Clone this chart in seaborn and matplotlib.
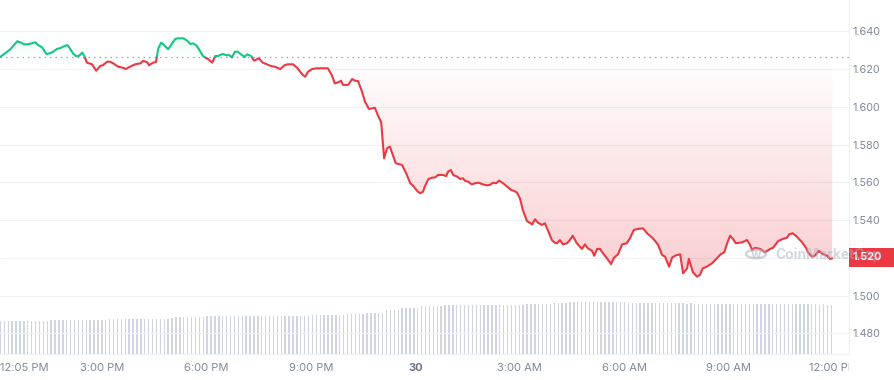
import numpy as np
import matplotlib
matplotlib.use("Agg")
import matplotlib.pyplot as plt
from matplotlib.patches import Rectangle, Circle
from matplotlib.path import Path
import matplotlib.transforms as mtransforms
import seaborn as sns

# ---------------- data ----------------
# minutes after 12:00 PM (day 29) and price in USD
minutes = [5, 13, 22, 27, 34, 39, 46, 52, 59, 65, 70, 77, 84, 90, 96, 102, 108, 113, 120, 123,
           130, 135, 140, 146, 149, 154, 163, 170, 177, 182, 189, 194, 201, 208, 216, 221, 228, 237, 246,
           251, 258, 261, 268, 273, 277, 282, 285, 294, 301, 306, 311, 320, 327, 332, 337, 342, 347,
           354, 363, 370, 375, 380, 388, 394, 399, 404, 409, 414, 421, 426, 430, 437, 442, 447, 450,
           457, 464, 471, 478, 487,
           495, 500, 509, 516, 525, 530, 535, 542, 550, 561, 569, 576, 581, 587, 592, 595, 604, 611,
           616, 621, 628, 633, 640, 650, 655, 661, 666, 671, 676, 681, 686, 697, 704, 711, 716, 723, 728,
           733, 736, 742, 748, 754, 759, 767, 773, 776, 781, 785, 792, 797, 802, 805, 811, 817, 823,
           829, 836, 843, 848, 854, 859, 864, 871, 878, 885, 890, 895, 900, 905, 912, 921, 926, 931,
           938, 943, 948, 955, 960, 964, 969,
           974, 981, 986, 991, 998, 1007, 1012, 1017, 1024, 1028, 1033, 1038, 1043, 1050, 1057, 1062,
           1069, 1076, 1084, 1090, 1096, 1103, 1112, 1119, 1128, 1133, 1138, 1145, 1150, 1157, 1162,
           1167, 1176, 1181, 1188, 1191, 1198, 1205, 1210,
           1215, 1222, 1231, 1239, 1246, 1252, 1257, 1262, 1267, 1272, 1283, 1291, 1296, 1300, 1305,
           1314, 1322, 1331, 1336, 1345, 1353, 1360, 1364, 1370, 1377, 1386, 1393, 1396, 1403, 1408,
           1415, 1422, 1429, 1434, 1438]
prices = [1.6265, 1.6283, 1.6305, 1.6322, 1.6347, 1.6342, 1.6331, 1.6331, 1.6336, 1.6342, 1.6327,
          1.6315, 1.6280, 1.6283, 1.6292, 1.6306, 1.6311, 1.6318, 1.6327, 1.6318,
          1.6283, 1.6269, 1.6269, 1.6287, 1.6273, 1.6234, 1.6225, 1.6191, 1.6216, 1.6221, 1.6239,
          1.6239, 1.6227, 1.6212, 1.6207, 1.6200, 1.6212, 1.6225, 1.6230,
          1.6243, 1.6236, 1.6220, 1.6234, 1.6237, 1.6310, 1.6340, 1.6333, 1.6305, 1.6336, 1.6359,
          1.6363, 1.6363, 1.6350, 1.6333, 1.6336, 1.6327, 1.6305,
          1.6269, 1.6252, 1.6234, 1.6269, 1.6269, 1.6280, 1.6273, 1.6274, 1.6262, 1.6292, 1.6292,
          1.6274, 1.6265, 1.6278, 1.6269, 1.6244, 1.6252, 1.6257,
          1.6234, 1.6225, 1.6216, 1.6212, 1.6200,
          1.6221, 1.6225, 1.6225, 1.6207, 1.6172, 1.6159, 1.6186, 1.6200, 1.6204, 1.6204, 1.6204,
          1.6168, 1.6124, 1.6130, 1.6138, 1.6116, 1.6116, 1.6147,
          1.6138, 1.6137, 1.6080, 1.6027, 1.5988, 1.5995, 1.5957, 1.5918, 1.5727, 1.5780, 1.5789,
          1.5745, 1.5701, 1.5692, 1.5648, 1.5595, 1.5582, 1.5554, 1.5542,
          1.5550, 1.5577, 1.5616, 1.5624, 1.5626, 1.5639, 1.5639, 1.5633, 1.5656, 1.5665, 1.5639,
          1.5630, 1.5618, 1.5621, 1.5609, 1.5603, 1.5589, 1.5595,
          1.5598, 1.5589, 1.5584, 1.5586, 1.5598, 1.5595, 1.5609, 1.5595, 1.5577, 1.5559, 1.5554,
          1.5545, 1.5515, 1.5453, 1.5395, 1.5377, 1.5404,
          1.5386, 1.5374, 1.5383, 1.5347, 1.5294, 1.5280, 1.5277, 1.5294,
          1.5271, 1.5277, 1.5294, 1.5317, 1.5277, 1.5247, 1.5271, 1.5250, 1.5238, 1.5211, 1.5247,
          1.5247, 1.5224, 1.5197, 1.5167, 1.5200,
          1.5219, 1.5271, 1.5277, 1.5306, 1.5347, 1.5353, 1.5356, 1.5330, 1.5306, 1.5289, 1.5268,
          1.5215, 1.5206, 1.5153, 1.5200, 1.5211, 1.5219, 1.5118, 1.5144, 1.5194, 1.5123, 1.5100,
          1.5109,
          1.5144, 1.5153, 1.5171, 1.5197, 1.5219, 1.5229, 1.5277, 1.5317, 1.5300, 1.5277, 1.5282,
          1.5294, 1.5271, 1.5241, 1.5253, 1.5247, 1.5229, 1.5247, 1.5253, 1.5289,
          1.5300, 1.5306, 1.5325, 1.5330, 1.5312, 1.5282, 1.5253, 1.5229, 1.5206, 1.5211,
          1.5236, 1.5219, 1.5211, 1.5194, 1.5197]
open_price = 1.6265

# trading volume (relative units), one bar per interval
volume = [33.0, 33.2, 33.0, 33.1, 33.0, 33.0, 33.2, 33.1, 33.0, 33.0, 33.1, 33.2, 33.0,
          33.8, 34.0, 34.0, 33.9, 34.0, 34.1, 34.0, 34.0, 33.9, 34.0, 34.2, 34.0, 34.0, 34.1, 34.0,
          35.0, 35.0, 34.9, 35.1, 35.0, 35.2, 35.0, 35.0, 35.1, 35.0, 35.0, 35.3, 35.0, 35.1, 35.0, 35.2,
          36.5, 36.7, 36.6, 36.8, 36.7, 36.7, 36.9, 36.7,
          37.5, 37.7, 37.8, 37.6, 37.7, 37.9, 37.7, 37.6, 37.8,
          38.2, 38.3, 38.3, 38.4, 38.2, 38.3, 38.5, 38.3, 38.2, 38.3, 38.4, 38.3, 38.3, 38.2, 38.4,
          38.3, 38.5, 38.3, 38.4, 38.6,
          39.0, 39.0, 39.1, 38.9, 39.0, 39.2, 39.0, 39.1,
          40.0, 40.0, 40.1, 40.2, 40.0,
          41.2, 41.3, 41.4, 41.3, 41.5,
          43.8, 44.0, 44.1, 44.2,
          45.8, 46.0, 46.1, 46.2, 46.3,
          48.0, 48.2, 48.3, 48.4, 48.3, 48.5, 48.6, 48.7,
          49.0, 48.9, 49.0, 49.0, 49.1, 48.9, 49.0, 49.0, 49.0, 48.8, 48.9, 49.0, 49.2, 49.1, 49.2,
          49.3, 49.3, 49.4, 49.5,
          49.8, 50.0, 50.0, 50.1, 50.2, 50.3, 50.5, 50.6, 50.8,
          51.3, 51.5, 51.6, 51.7, 51.7, 51.8, 51.9, 52.0, 52.1, 52.2, 52.2, 52.3,
          52.4, 52.4, 52.3, 52.3, 52.2,
          51.0, 50.8, 50.7, 50.7, 50.6, 50.7, 50.7, 50.6, 50.7, 50.7, 50.6, 50.6, 50.7, 50.6, 50.6,
          50.5, 50.6, 50.5, 50.5,
          50.0, 49.9, 49.8, 49.8, 49.7, 49.8, 49.7, 49.7, 49.8, 49.7, 49.7, 49.6, 49.7, 49.7, 49.8,
          49.7, 49.7, 49.6, 49.7, 49.7, 49.7, 49.6, 49.7, 49.6, 49.7, 49.6, 49.6, 49.7, 49.6, 49.6,
          49.5, 49.6, 49.5, 49.5]
volume_step_min = 6.72   # minutes between volume bars
volume_start_min = 5

tick_minutes = [180, 360, 540, 720, 900, 1080, 1260, 1440]
tick_labels = ["3:00 PM", "6:00 PM", "9:00 PM", "30", "3:00 AM", "6:00 AM", "9:00 AM", "12:00 PM"]
first_label = "12:05 PM"
price_ticks = [1.480, 1.500, 1.520, 1.540, 1.560, 1.580, 1.600, 1.620, 1.640]
last_price_label = "1.520"

# ---------------- style ----------------
RED = "#ea3943"
GREEN = "#16c784"
GRID = "#eff2f5"
TXT = "#7f8899"
VOLC = "#cfd6e2"

sns.set_theme(style="white")
plt.rcParams["font.family"] = ["Inter", "DejaVu Sans"]

W, H = 895, 380
fig = plt.figure(figsize=(W / 100, H / 100), dpi=100)
ax_w = 849 / W
ax_b = (H - 354) / H
ax = fig.add_axes([0, ax_b, ax_w, 1 - ax_b])
XMIN, XMAX = 4.3, 1466.9
YMIN, YMAX = 1.46903, 1.65658

# volume axis (behind)
axv = ax.twinx()
ax.set_zorder(2)
ax.patch.set_visible(False)
axv.set_zorder(1)
vx = volume_start_min + np.arange(len(volume)) * volume_step_min
axv.bar(vx, volume, width=2.4, color=VOLC, linewidth=0, align="center")
axv.set_ylim(0, 354)
axv.set_xlim(XMIN, XMAX)
axv.set_yticks([])
for s in axv.spines.values():
    s.set_visible(False)

x = np.array(minutes, dtype=float)
y = np.array(prices)

# gradient fills
def gradient_fill(where, far, amax, color):
    coll = ax.fill_between(x, y, open_price, where=where, interpolate=True,
                           facecolor="none", edgecolor="none")
    paths = coll.get_paths()
    comp = Path.make_compound_path(*paths)
    rows = 400
    yy = np.linspace(YMIN, YMAX, rows)
    a = np.clip((yy - open_price) / (far - open_price), 0, 1) * amax
    rgb = matplotlib.colors.to_rgb(color)
    img = np.zeros((rows, 1, 4))
    img[:, 0, 0], img[:, 0, 1], img[:, 0, 2] = rgb
    img[:, 0, 3] = a
    im = ax.imshow(img, extent=[XMIN, XMAX, YMIN, YMAX], origin="lower",
                   aspect="auto", interpolation="bilinear", zorder=1)
    im.set_clip_path(comp, ax.transData)

gradient_fill(y <= open_price, 1.505, 0.26, RED)
gradient_fill(y >= open_price, 1.640, 0.14, GREEN)

# price line (two colours split at the open price)
sns.lineplot(x=x, y=y, ax=ax, color=RED, linewidth=1.5, sort=False, estimator=None, zorder=3)
line_red = ax.lines[-1]
sns.lineplot(x=x, y=y, ax=ax, color=GREEN, linewidth=1.5, sort=False, estimator=None, zorder=3)
line_green = ax.lines[-1]
below = Rectangle((XMIN - 100, YMIN - 1), XMAX + 200, open_price - YMIN + 1, transform=ax.transData)
above = Rectangle((XMIN - 100, open_price), XMAX + 200, 1, transform=ax.transData)
line_red.set_clip_path(below)
line_green.set_clip_path(above)
line_red.set_solid_capstyle("round")
line_green.set_solid_capstyle("round")

# open price dotted reference
ax.axhline(open_price, color="#9ea7b8", linewidth=0.9, linestyle=(0, (1.2, 3.2)), zorder=2)

ax.set_xlim(XMIN, XMAX)
ax.set_ylim(YMIN, YMAX)

# grid & axes
ax.set_yticks(price_ticks)
ax.set_yticklabels([f"{v:.3f}" for v in price_ticks])
ax.yaxis.tick_right()
ax.grid(axis="y", color=GRID, linewidth=0.8)
ax.grid(axis="x", visible=False)
ax.tick_params(axis="y", length=0, pad=2.5, labelsize=7.8, labelcolor=TXT)
ax.tick_params(axis="x", length=0, pad=6.5, labelsize=8, labelcolor=TXT)
ax.set_xticks(tick_minutes)
ax.set_xticklabels(tick_labels)
for lab in ax.get_xticklabels():
    if lab.get_text() == "30":
        lab.set_fontweight("bold")
        lab.set_color("#6b7487")
    if lab.get_text() == "12:00 PM":
        clip = mtransforms.Bbox.from_extents(0, 0, 849, H)
        lab.set_clip_box(mtransforms.TransformedBbox(clip, mtransforms.IdentityTransform()))
        lab.set_clip_on(True)
for lab in ax.get_yticklabels():
    lab.set_horizontalalignment("left")
for side in ["top", "left"]:
    ax.spines[side].set_visible(False)
ax.spines["right"].set_color(GRID)
ax.spines["right"].set_linewidth(0.8)
ax.spines["bottom"].set_color(GRID)
ax.spines["bottom"].set_linewidth(0.8)
ax.set_xlabel("")
ax.set_ylabel("")

fig.text(0.5 / W, (H - 368) / H, first_label, ha="left", va="center", fontsize=8, color=TXT)

# current price tag
fig.patches.append(Rectangle((849 / W, (H - 267) / H), 46 / W, 19 / H,
                             transform=fig.transFigure, facecolor=RED, edgecolor="none", zorder=5))
fig.text(853 / W, (H - 257.5) / H, last_price_label, ha="left", va="center",
         fontsize=7.8, color="white", fontweight="bold", zorder=6)

# watermark
WM = "#a9b1c2"
fig.patches.append(Circle((756 / W, (H - 254) / H), 10 / W, transform=fig.transFigure,
                          facecolor="none", edgecolor=WM, linewidth=1.8, alpha=0.55, zorder=7))
fig.text(756 / W, (H - 255) / H, "w", ha="center", va="center", fontsize=9, fontweight="bold",
         color=WM, alpha=0.55, zorder=7)
fig.text(775 / W, (H - 255) / H, "CoinMarketCap", ha="left", va="center", fontsize=10,
         fontweight="bold", color=WM, alpha=0.5, zorder=7)

fig.savefig("out.png", dpi=100)
